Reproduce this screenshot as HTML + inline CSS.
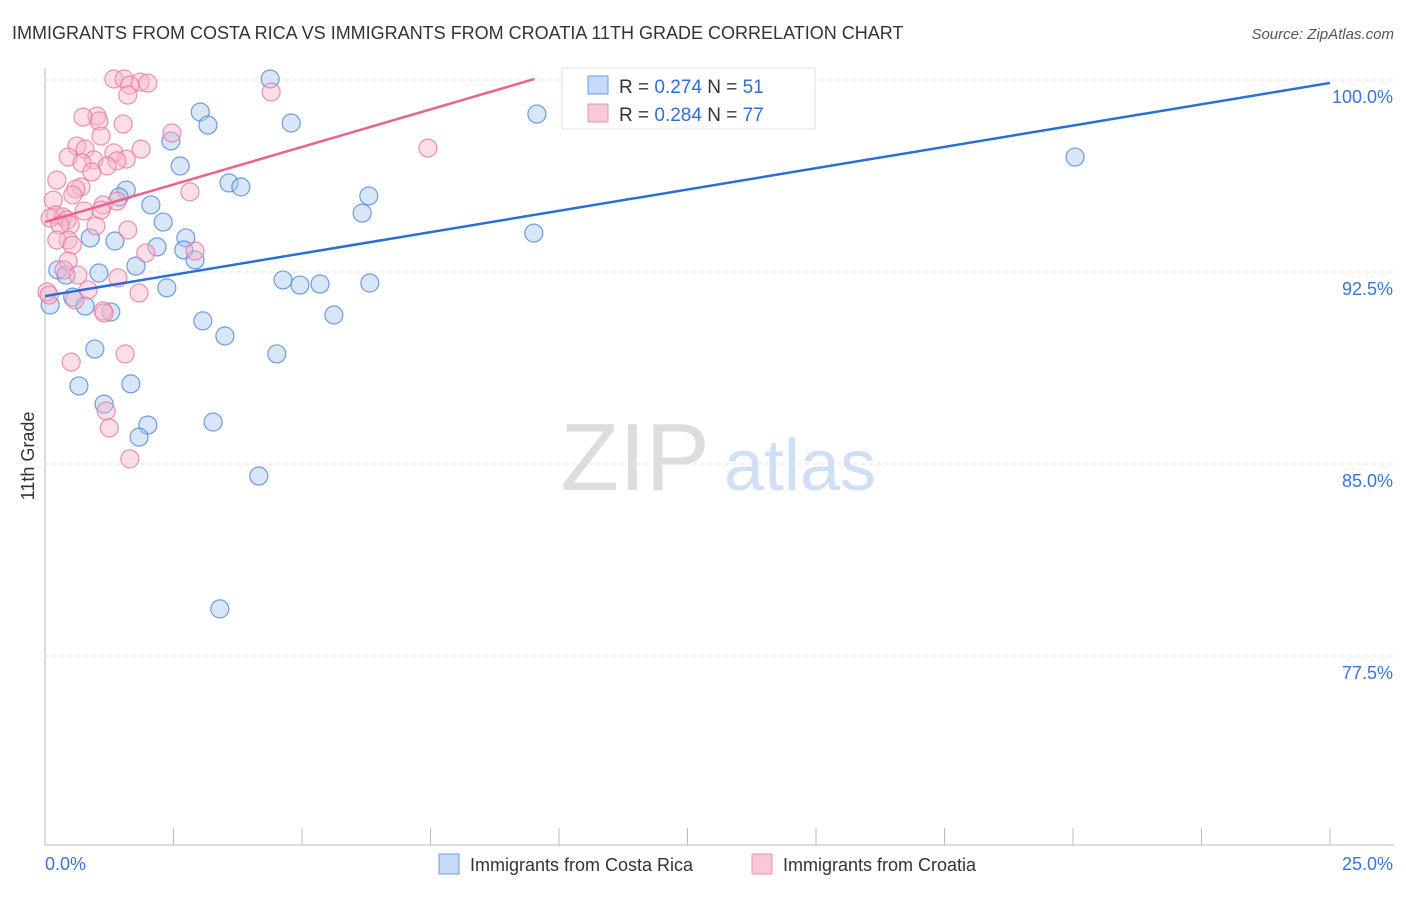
<!DOCTYPE html>
<html><head><meta charset="utf-8"><style>
body{margin:0;background:#fff;font-family:"Liberation Sans",sans-serif}
svg text{font-family:"Liberation Sans",sans-serif}
</style></head><body>
<svg id="c" width="1406" height="892">
<text x="12" y="39" font-size="18" fill="#333">IMMIGRANTS FROM COSTA RICA VS IMMIGRANTS FROM CROATIA 11TH GRADE CORRELATION CHART</text>
<text x="1394" y="39" font-size="15" fill="#555" font-style="italic" text-anchor="end">Source: ZipAtlas.com</text>
<text x="34" y="456" font-size="18" fill="#333" text-anchor="middle" transform="rotate(-90 34 456)">11th Grade</text>
<g><text x="635" y="490" font-size="96" fill="#ddd" font-family="Liberation Serif" text-anchor="middle">ZIP</text><text x="800" y="490" font-size="72" fill="#cfe0f5" text-anchor="middle">atlas</text></g>
<g id="grid"></g><g id="marks"></g>
<g>
<rect x="562" y="68" width="253" height="61" fill="#fff" stroke="#ddd"/>
<rect x="588" y="76" width="20" height="18" fill="#c5dbf7" stroke="#6a9ee0"/>
<rect x="588" y="104" width="20" height="18" fill="#fac9d8" stroke="#ee8fae"/>
<text x="619" y="93" font-size="19" fill="#333">R = <tspan fill="#2f6fd6">0.274</tspan>   N = <tspan fill="#2f6fd6">51</tspan></text>
<text x="619" y="121" font-size="19" fill="#333">R = <tspan fill="#2f6fd6">0.284</tspan>   N = <tspan fill="#2f6fd6">77</tspan></text>
</g>
<g>
<rect x="439" y="854" width="20" height="20" fill="#c5dbf7" stroke="#6a9ee0"/>
<text x="470" y="871" font-size="18" fill="#333">Immigrants from Costa Rica</text>
<rect x="752" y="854" width="20" height="20" fill="#fac9d8" stroke="#ee8fae"/>
<text x="783" y="871" font-size="18" fill="#333">Immigrants from Croatia</text>
</g>
</svg>
<script>
const yTicks=[100,92.5,85,77.5];
const yTickLabels=["100.0%","92.5%","85.0%","77.5%"];
const xTicks=[0,2.5,5,7.5,10,12.5,15,17.5,20,22.5,25];
const blueX=[4.38,3.02,3.17,4.79,9.57,2.45,2.63,20.04,3.58,3.81,1.58,1.44,6.30,2.06,6.17,2.30,9.51,0.88,1.36,2.18,2.74,2.70,2.92,1.77,0.25,0.41,1.05,4.63,4.96,5.35,6.32,2.37,0.54,0.78,1.28,0.10,5.62,3.07,3.50,0.97,4.51,0.66,1.67,1.15,3.27,2.00,1.83,4.16,3.40];
const blueY=[100.04,98.75,98.24,98.32,98.67,97.62,96.64,96.99,95.98,95.82,95.70,95.43,95.47,95.12,94.80,94.45,94.02,93.83,93.71,93.48,93.83,93.36,92.97,92.73,92.58,92.38,92.46,92.19,91.99,92.03,92.07,91.88,91.52,91.17,90.94,91.21,90.82,90.59,90.00,89.49,89.30,88.05,88.13,87.34,86.64,86.52,86.05,84.53,79.34];
const pinkX=[1.34,1.54,1.85,2.00,1.65,1.61,10.31,4.40,1.01,1.05,0.74,1.52,1.09,2.47,7.45,0.62,0.78,1.87,1.34,0.45,1.58,1.40,0.95,0.72,1.21,0.91,0.23,0.70,0.60,2.82,0.54,1.40,1.13,0.16,0.76,1.09,0.21,0.35,0.10,0.43,0.49,0.29,0.99,1.61,0.45,0.23,0.53,1.96,2.92,0.45,0.37,0.64,1.42,0.84,0.04,0.08,1.83,0.58,1.13,1.15,0.51,1.56,1.19,1.25,1.65];
const pinkY=[100.04,100.04,99.92,99.88,99.80,99.41,100.04,99.53,98.59,98.40,98.55,98.28,97.81,97.93,97.34,97.42,97.30,97.30,97.15,96.99,96.91,96.84,96.88,96.76,96.64,96.41,96.09,95.82,95.74,95.63,95.51,95.27,95.12,95.31,94.88,94.92,94.73,94.65,94.61,94.53,94.34,94.34,94.30,94.14,93.75,93.75,93.55,93.24,93.32,92.93,92.58,92.38,92.27,91.80,91.72,91.60,91.68,91.41,90.98,90.90,88.98,89.30,87.07,86.41,85.20];
const blueTrend=[91.56,0.333];
const pinkTrend=[94.45,0.587];
const NS="http://www.w3.org/2000/svg";
const X=v=>45+v*51.4, Y=v=>80+(100-v)*25.6;
function mk(t,a,p){const e=document.createElementNS(NS,t);for(const k in a)e.setAttribute(k,a[k]);p.appendChild(e);return e;}
const g=document.getElementById('grid'), m=document.getElementById('marks');
const ax=mk('line',{x1:45,y1:68,x2:45,y2:845,stroke:'#bbb'},g);


const bx=mk('line',{x1:45,y1:845,x2:1394,y2:845,stroke:'#bbb'},g);


yTicks.forEach((v,i)=>{
 const l=mk('line',{x1:45,x2:1394,y1:Y(v),y2:Y(v),stroke:'#ddd','stroke-dasharray':'4,4'},g);
 
 
 const t=mk('text',{x:1393,y:Y(v)+23,'font-size':18,fill:'#3a74d6','text-anchor':'end'},g);
 t.textContent=yTickLabels[i];
 
 
});
xTicks.forEach(v=>{
 const l=mk('line',{x1:X(v),x2:X(v),y1:828,y2:845,stroke:'#bbb'},g);
 
 
});
const x0=mk('text',{x:45,y:870,'font-size':18,fill:'#3a74d6'},g);x0.textContent='0.0%';


const x1=mk('text',{x:1393,y:870,'font-size':18,fill:'#3a74d6','text-anchor':'end'},g);x1.textContent='25.0%';


function pts(xs,ys,fill,stroke,name){xs.forEach((x,i)=>{
 const c=mk('circle',{cx:X(x),cy:Y(ys[i]),r:9,fill:fill,'fill-opacity':0.45,stroke:stroke,'stroke-opacity':0.8,'stroke-width':1.2},m);
 
 
});}
pts(blueX,blueY,'#a9c8f0','#4a86dc','costa-rica-point');
pts(pinkX,pinkY,'#f7b6c9','#e8789e','croatia-point');
const bl=mk('line',{x1:X(0),y1:Y(blueTrend[0]),x2:X(25),y2:Y(blueTrend[0]+25*blueTrend[1]),stroke:'#2a6fd6','stroke-width':2.5},m);


const pe=(100.04-pinkTrend[0])/pinkTrend[1];
const pl=mk('line',{x1:X(0),y1:Y(pinkTrend[0]),x2:X(pe),y2:Y(pinkTrend[0]+pe*pinkTrend[1]),stroke:'#e8648e','stroke-width':2.5},m);


</script>
</body></html>
